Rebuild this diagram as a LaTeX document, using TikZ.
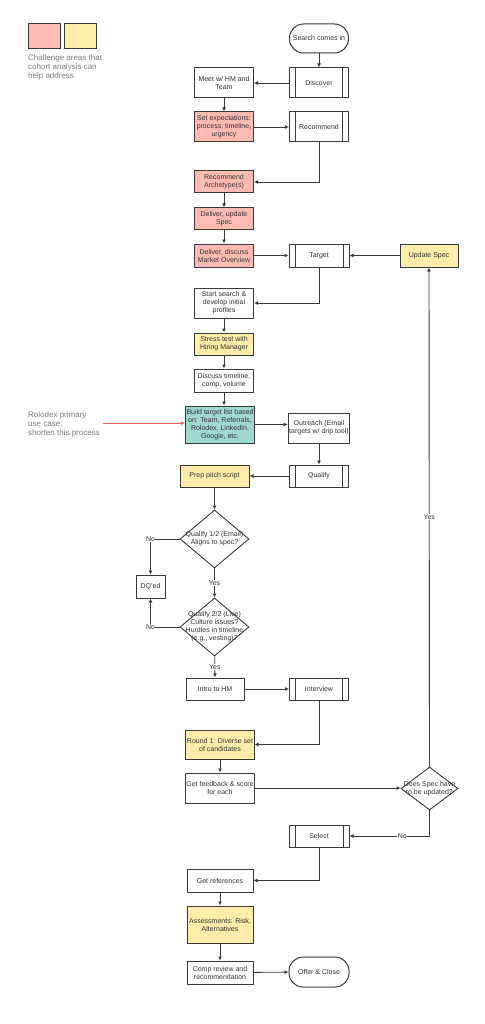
\documentclass[tikz,border=0pt]{standalone}
\usepackage{fontspec}
\setmainfont{Liberation Sans}
\usetikzlibrary{shapes.geometric,arrows.meta}
\definecolor{pinkc}{HTML}{FFBBB2}
\definecolor{yellc}{HTML}{FFECA8}
\definecolor{tealc}{HTML}{9ED8CE}
\definecolor{linec}{HTML}{3A3A3A}
\definecolor{greyt}{HTML}{7A7A7A}
\definecolor{redc}{HTML}{E06464}
\tikzset{
 box/.style={draw=linec,line width=1pt,fill=white,minimum width=59pt,minimum height=30pt,inner sep=1pt,align=center,font=\fontsize{7}{8}\selectfont,text=black!80},
 proc/.style={box,path picture={\draw[linec,line width=1pt]
   ([xshift=6pt]path picture bounding box.north west)--([xshift=6pt]path picture bounding box.south west)
   ([xshift=-6pt]path picture bounding box.north east)--([xshift=-6pt]path picture bounding box.south east);}},
 term/.style={box,rounded corners=14pt},
 dia/.style={draw=linec,line width=0.9pt,shape=diamond,inner sep=0pt,fill=white,font=\fontsize{7}{8}\selectfont,text=black!80},
 lbl/.style={fill=white,inner sep=0.5pt,font=\fontsize{7}{8}\selectfont,text=black!80},
 arr/.style={draw=linec,line width=0.9pt,-{Latex[length=4pt,width=4pt]}},
 note/.style={anchor=north west,inner sep=0pt,align=left,font=\fontsize{8}{9}\selectfont,text=greyt},
}
\begin{document}
\begin{tikzpicture}[x=1pt,y=-1pt]
\useasboundingbox(0,0)rectangle(484,1024);
%legend
\node[box,fill=pinkc,minimum width=32pt,minimum height=25pt](lgpink)at(44,36.5){};
\node[box,fill=yellc,minimum width=32pt,minimum height=25pt](lgyell)at(80,36.5){};
\node[note](lgtext)at(28,54.5){Challenge areas that\\cohort analysis can\\help address};
\node[note](rolo)at(28,411.7){Rolodex primary\\use case:\\shorten this process};
%right column
\node[term,minimum height=29pt](start)at(319,38.5){Search comes in};
\node[proc](disc)at(319,83){Discover};
\node[proc](rec)at(319,127){Recommend};
\node[proc,minimum width=60pt,minimum height=23pt](target)at(319,255.5){Target};
\node[box,fill=yellc,minimum width=58pt,minimum height=23pt](upd)at(429,255.5){Update Spec};
\node[box](outr)at(319,428){Outreach (Email\\targets w/ drip tool)};
\node[proc,minimum height=22pt](qual)at(319,476){Qualify};
\node[proc,minimum height=22pt](intv)at(319,689){Interview};
\node[dia,minimum width=57pt,minimum height=43pt,label={[align=center,font=\fontsize{7}{8}\selectfont,text=black!80]center:Does Spec have\\to be updated?}](q3)at(429.5,788.5){};
\node[proc,minimum width=60pt,minimum height=22pt](sel)at(319,836){Select};
\node[term,minimum width=60pt](offer)at(319,972){Offer \& Close};
%left column
\node[box](meet)at(224,83){Meet w/ HM and\\Team};
\node[box,fill=pinkc](setexp)at(224,127){Set expectations:\\process, timeline,\\urgency};
\node[box,fill=pinkc,minimum height=22pt](arch)at(224,182){Recommend\\Archetype(s)};
\node[box,fill=pinkc,minimum height=22pt](delup)at(224,219){Deliver, update\\Spec};
\node[box,fill=pinkc,minimum height=23pt](delmkt)at(224,255.5){Deliver, discuss\\Market Overview};
\node[box](srch)at(224,303){Start search \&\\develop initial\\profiles};
\node[box,fill=yellc,minimum height=22pt](stress)at(224,344){Stress test with\\Hiring Manager};
\node[box,minimum height=23pt](talk)at(224,380.5){Discuss timeline,\\comp, volume};
\node[box,fill=tealc,minimum width=66pt,minimum height=37pt](build)at(220,424.5){Build target list based\\on: Team, Referrals,\\Rolodex, LinkedIn,\\Google, etc.};
\node[box,fill=yellc,minimum width=69pt,minimum height=22pt](prep)at(214.5,476){Prep pitch script};
\node[dia,minimum width=69pt,minimum height=58pt,label={[align=center,font=\fontsize{7}{8}\selectfont,text=black!80]center:Qualify 1/2 (Email)\\Aligns to spec?}](q1)at(214.5,539){};
\node[box,minimum width=29pt,minimum height=23pt](dq)at(150.5,586.5){DQ'ed};
\node[dia,minimum width=69pt,minimum height=58pt,label={[align=center,font=\fontsize{7}{8}\selectfont,text=black!80]center:Qualify 2/2 (Live)\\Culture issues?\\Hurdles in timeline\\(e.g., vesting)?}](q2)at(214.5,627){};
\node[box,minimum width=58pt,minimum height=22pt](intro)at(215,689){Intro to HM};
\node[box,fill=yellc,minimum width=66pt,minimum height=29pt](round)at(220,744.5){Round 1: Diverse set\\of candidates};
\node[box,minimum width=66pt](fb)at(220,788){Get feedback \& score\\for each};
\node[box,minimum width=66pt,minimum height=23pt](refs)at(220,880.5){Get references};
\node[box,fill=yellc,minimum width=66pt,minimum height=37pt](assess)at(220,924.5){Assessments: Risk,\\Alternatives};
\node[box,minimum width=66pt,minimum height=23pt](comp)at(220,972.5){Comp review and\\recommendation};
%connectors
\draw[arr](start)--(disc);
\draw[arr](disc)--(meet);
\draw[arr](meet)--(setexp);
\draw[arr](setexp)--(rec);
\draw[arr](rec.south)|-(arch.east);
\draw[arr](arch)--(delup);
\draw[arr](delup)--(delmkt);
\draw[arr](delmkt)--(target);
\draw[arr](upd)--(target);
\draw[arr](target.south)|-(srch.east);
\draw[arr](srch)--(stress);
\draw[arr](stress)--(talk);
\draw[arr](talk.south)--(talk.south|-build.north);
\draw[arr](build.east)--(build.east-|outr.west);
\draw[arr](outr)--(qual);
\draw[arr](qual)--(prep);
\draw[arr](prep)--(q1);
\draw[arr](q1.west)-|(dq.north)node[lbl,pos=0.5]{No};
\draw[arr](q1)--(q2)node[lbl,midway]{Yes};
\draw[arr](q2.west)-|(dq.south)node[lbl,pos=0.5]{No};
\draw[arr](q2)--(intro)node[lbl,midway]{Yes};
\draw[arr](intro)--(intv);
\draw[arr](intv.south)|-(round.east);
\draw[arr](round)--(fb);
\draw[arr](fb.east)--(fb.east-|q3.west);
\draw[arr](q3.north)--(upd.south)node[lbl,midway]{Yes};
\draw[arr](q3.south)|-(sel.east)node[lbl,pos=0.67]{No};
\draw[arr](sel.south)|-(refs.east);
\draw[arr](refs)--(assess);
\draw[arr](assess)--(comp);
\draw[arr](comp)--(offer);
%rolodex pointer
\coordinate(rstart)at(103,423);
\draw[arr,draw=redc](rstart)--(rstart-|build.west);
\end{tikzpicture}
\end{document}
